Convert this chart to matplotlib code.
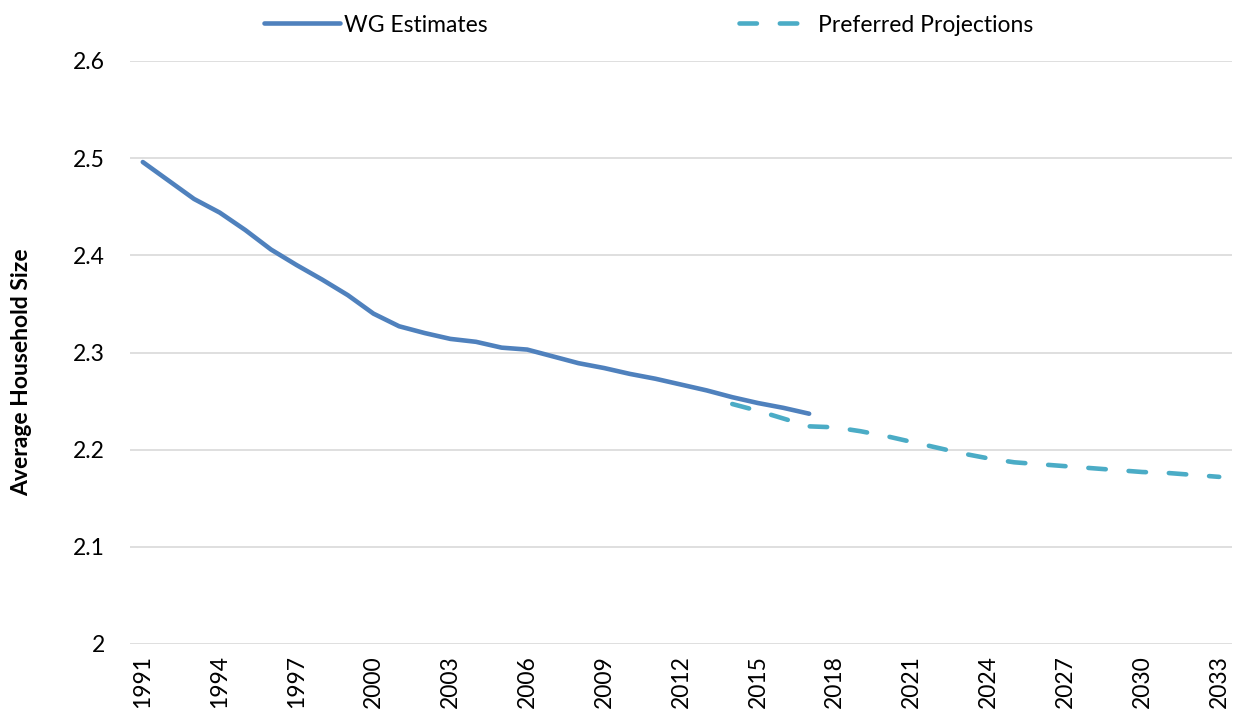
import matplotlib
matplotlib.use("Agg")
import matplotlib.pyplot as plt
from matplotlib.lines import Line2D

years_est = list(range(1991, 2018))
wg_estimates = [2.496, 2.477, 2.458, 2.444, 2.426, 2.406, 2.390, 2.375, 2.359, 2.340,
                2.327, 2.320, 2.314, 2.311, 2.305, 2.303, 2.296, 2.289, 2.284, 2.278,
                2.273, 2.267, 2.261, 2.254, 2.248, 2.243, 2.237]

years_proj = list(range(2014, 2034))
preferred_proj = [2.247, 2.240, 2.232, 2.224, 2.223, 2.219, 2.214, 2.208, 2.202, 2.196,
                  2.191, 2.187, 2.185, 2.183, 2.181, 2.179, 2.177, 2.176, 2.174, 2.172]

tick_years = [1991, 1994, 1997, 2000, 2003, 2006, 2009, 2012, 2015, 2018,
              2021, 2024, 2027, 2030, 2033]
y_ticks = [2.0, 2.1, 2.2, 2.3, 2.4, 2.5, 2.6]
y_tick_labels = ["2", "2.1", "2.2", "2.3", "2.4", "2.5", "2.6"]

plt.rcParams['font.family'] = ['Lato', 'DejaVu Sans']

fig = plt.figure(figsize=(12.36, 7.16), dpi=100)
ax = fig.add_axes([130/1236, 72/716, 1102/1236, 583/716])

c_est = "#4F81BD"
c_proj = "#4BACC6"
lw = 3.3

ax.plot(years_est, wg_estimates, color=c_est, lw=lw, solid_capstyle='round',
        solid_joinstyle='round', zorder=4, label="WG Estimates")
ax.plot(years_proj, preferred_proj, color=c_proj, lw=lw, dash_capstyle='round',
        dashes=(3.8, 5.0), zorder=3, label="Preferred Projections")

ax.set_xlim(1990.5, 2033.5)
ax.set_ylim(2.0, 2.6)
ax.set_yticks(y_ticks)
ax.set_yticklabels(y_tick_labels)
ax.set_xticks(tick_years)
ax.set_xticklabels([str(y) for y in tick_years], rotation=90)
ax.tick_params(axis='both', length=0, labelsize=16.5, colors='black')
ax.tick_params(axis='y', pad=18)
ax.tick_params(axis='x', pad=8)
ax.grid(axis='y', color='#D9D9D9', lw=1.2)
ax.set_axisbelow(True)
for s in ax.spines.values():
    s.set_visible(False)

fig.text(22/1236, (716-372)/716, "Average Household Size", rotation=90,
         fontsize=16.5, fontweight='bold', ha='center', va='center')

handles = [Line2D([], [], color=c_est, lw=lw, solid_capstyle='round'),
           Line2D([], [], color=c_proj, lw=lw, dash_capstyle='round', dashes=(3.8, 5.0))]
fig.legend(handles, ["WG Estimates", "Preferred Projections"], loc='center',
           bbox_to_anchor=(649/1236, 1 - 25/716), ncol=2, frameon=False,
           fontsize=16.5, handlelength=3.3, handletextpad=0.15, columnspacing=11)

fig.savefig("out.png", dpi=100)
